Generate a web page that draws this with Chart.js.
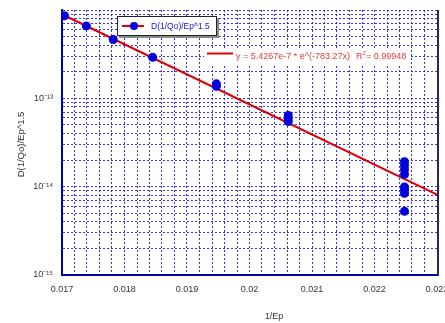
<!DOCTYPE html>
<html>
<head>
<meta charset="utf-8">
<script src="https://cdn.jsdelivr.net/npm/chart.js@4/dist/chart.umd.min.js"></script>
<style>
  html, body { margin: 0; padding: 0; background: #fff; overflow: hidden; }
  #wrap { position: relative; width: 445px; height: 323px; }
</style>
</head>
<body>
<div id="wrap"><canvas id="c"></canvas></div>
<script>
// Measured samples: inverse peak energy vs D(1/Qo)/Ep^1.5
const seriesLabel = 'D(1/Qo)/Ep^1.5';
const invEp = [
  0.01704, 0.01739, 0.01782, 0.01845,
  0.01947, 0.01947,
  0.02062, 0.02062, 0.02062,
  0.02248, 0.02248, 0.02248, 0.02248, 0.02248, 0.02248, 0.02248, 0.02248
];
const dQ = [
  8.6e-13, 6.6e-13, 4.64e-13, 2.91e-13,
  1.46e-13, 1.37e-13,
  6.4e-14, 5.9e-14, 5.47e-14,
  1.92e-14, 1.74e-14, 1.56e-14, 1.38e-14, 9.9e-15, 9.2e-15, 8.4e-15, 5.26e-15
];

// Exponential fit y = A * e^(B x)
const fitA = 5.4267e-7;
const fitB = -783.27;
const fitR2 = '0.99948';
const fitText = 'y = 5.4267e-7 * e^(-783.27x)';

// Axis ticks
const xTickValues = [0.017, 0.018, 0.019, 0.020, 0.021, 0.022, 0.023];
const xTickLabels = ['0.017', '0.018', '0.019', '0.02', '0.021', '0.022', '0.023'];
const yTickValues = [1e-15, 1e-14, 1e-13];
const yTickLabels = ['10\u207B\u00B9\u2075', '10\u207B\u00B9\u2074', '10\u207B\u00B9\u00B3'];
const xTitle = '1/Ep';
const yTitle = 'D(1/Qo)/Ep^1.5';

const xMin = 0.017, xMax = 0.023;
const yMin = 1e-15, yMax = 1e-12;

const FONT = '"Liberation Sans", Arial, Helvetica, sans-serif';
const GRID = 'rgba(20, 20, 225, 0.85)';

const points = invEp.map((x, i) => ({ x, y: dQ[i] }));
const fitLine = [xMin, xMax].map(x => ({ x, y: fitA * Math.exp(fitB * x) }));

const overlay = {
  id: 'overlay',
  afterDraw(chart) {
    const { ctx, chartArea: a } = chart;
    ctx.save();

    // right frame edge
    ctx.strokeStyle = '#2a2a5a';
    ctx.lineWidth = 2;
    ctx.beginPath();
    ctx.moveTo(a.right + 1, a.top);
    ctx.lineTo(a.right + 1, a.bottom + 1);
    ctx.stroke();

    // legend box with drop shadow
    const lx = 117, ly = 16, lw = 100, lh = 20;
    ctx.fillStyle = '#8a8a8a';
    ctx.fillRect(lx + 2, ly + 2, lw, lh);
    ctx.fillStyle = '#fff';
    ctx.fillRect(lx, ly, lw, lh);
    ctx.strokeStyle = '#222';
    ctx.lineWidth = 1;
    ctx.strokeRect(lx + 0.5, ly + 0.5, lw - 1, lh - 1);
    ctx.strokeStyle = '#dd0000';
    ctx.lineWidth = 2;
    ctx.beginPath();
    ctx.moveTo(122, ly + 10);
    ctx.lineTo(144, ly + 10);
    ctx.stroke();
    ctx.fillStyle = '#0000dd';
    ctx.beginPath();
    ctx.arc(134, ly + 10, 4, 0, Math.PI * 2);
    ctx.fill();
    ctx.font = '8.5px ' + FONT;
    ctx.fillStyle = '#1515cc';
    ctx.textBaseline = 'middle';
    ctx.textAlign = 'left';
    ctx.fillText(chart.data.datasets[0].label, 151, ly + 10.5);

    // fit annotation
    ctx.fillStyle = '#fff';
    ctx.fillRect(204, 48, 205, 18);
    ctx.strokeStyle = '#dd0000';
    ctx.lineWidth = 2;
    ctx.beginPath();
    ctx.moveTo(207, 53.5);
    ctx.lineTo(233, 53.5);
    ctx.stroke();
    ctx.fillStyle = '#e83a3a';
    ctx.font = '9px ' + FONT;
    ctx.fillText(fitText, 236, 56.5);
    ctx.fillText('R', 356, 56.5);
    ctx.font = '6px ' + FONT;
    ctx.fillText('2', 362.5, 53);
    ctx.font = '9px ' + FONT;
    ctx.fillText('= ' + fitR2, 366, 56.5);

    // axis titles
    ctx.fillStyle = '#333';
    ctx.font = '9px ' + FONT;
    ctx.textAlign = 'center';
    ctx.fillText(xTitle, 274, 317);
    ctx.save();
    ctx.translate(21.5, 144.5);
    ctx.rotate(-Math.PI / 2);
    ctx.font = '9.5px ' + FONT;
    ctx.fillText(yTitle, 0, 0);
    ctx.restore();

    ctx.restore();
  }
};

new Chart(document.getElementById('c'), {
  type: 'scatter',
  data: {
    datasets: [
      {
        label: seriesLabel,
        data: points,
        showLine: false,
        pointRadius: 4.5,
        pointHoverRadius: 4.5,
        pointBackgroundColor: '#0000dd',
        pointBorderColor: '#0000dd',
        pointBorderWidth: 0,
        order: 0
      },
      {
        label: 'fit',
        data: fitLine,
        showLine: true,
        borderColor: '#dd0000',
        borderWidth: 2,
        pointRadius: 0,
        fill: false,
        order: 1
      }
    ]
  },
  options: {
    responsive: true,
    maintainAspectRatio: false,
    animation: false,
    events: [],
    layout: { padding: { left: 0, right: 8, top: 10, bottom: 0 } },
    plugins: {
      legend: { display: false },
      tooltip: { enabled: false },
      title: { display: false }
    },
    scales: {
      x: {
        type: 'linear',
        min: xMin,
        max: xMax,
        afterBuildTicks(scale) {
          const t = [];
          for (let i = 0; i <= 30; i++) t.push({ value: (170 + 2 * i) / 10000 });
          scale.ticks = t;
        },
        afterFit(scale) {
          scale.height = 48;
          scale.paddingLeft = 0;
          scale.paddingRight = 0;
        },
        ticks: {
          autoSkip: false,
          maxRotation: 0,
          padding: 9,
          color: '#333',
          font: { family: FONT, size: 9 },
          callback(v) {
            const i = xTickValues.findIndex(t => Math.abs(t - v) < 1e-9);
            return i >= 0 ? xTickLabels[i] : '';
          }
        },
        grid: { color: GRID, lineWidth: 1, drawTicks: false },
        border: { display: true, color: '#0000aa', width: 2, dash: [2, 2] }
      },
      y: {
        type: 'logarithmic',
        min: yMin,
        max: yMax,
        afterBuildTicks(scale) {
          const t = [];
          for (let e = -15; e <= -13; e++) {
            for (let m = 1; m <= 9; m++) t.push({ value: m * Math.pow(10, e) });
          }
          t.push({ value: yMax });
          scale.ticks = t;
        },
        afterFit(scale) {
          scale.width = 62;
          scale.paddingTop = 0;
          scale.paddingBottom = 0;
        },
        ticks: {
          autoSkip: false,
          padding: 9,
          color: '#333',
          font: { family: FONT, size: 9 },
          callback(v) {
            const i = yTickValues.findIndex(t => Math.abs(v / t - 1) < 1e-6);
            return i >= 0 ? yTickLabels[i] : '';
          }
        },
        grid: { color: GRID, lineWidth: 1, drawTicks: false },
        border: { display: true, color: '#0000aa', width: 2, dash: [2, 2] }
      }
    }
  },
  plugins: [overlay]
});
</script>
</body>
</html>
